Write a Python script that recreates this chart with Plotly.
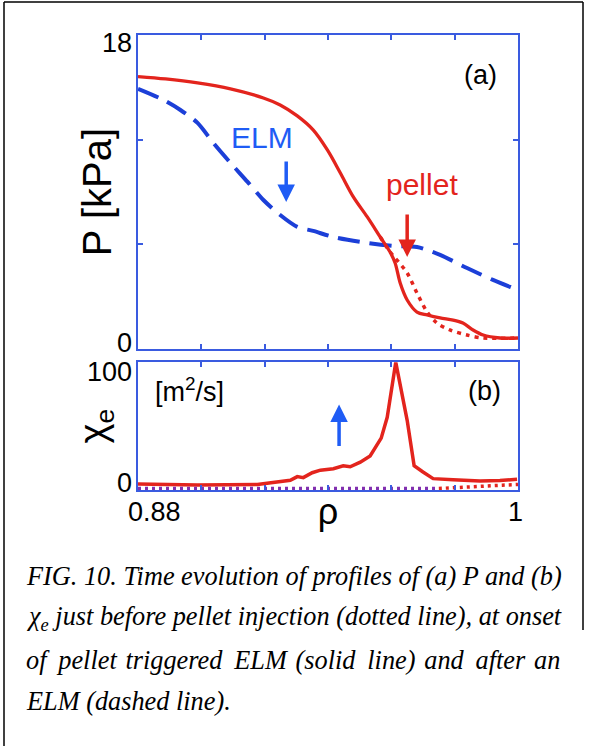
import plotly.graph_objects as go

# ---------------- data ----------------
# Panel (a): pressure profiles P [kPa] vs rho
rho_solid = [0.8800, 0.8887, 0.8988, 0.9092, 0.9196, 0.9249, 0.9303, 0.9353, 0.9398, 0.9439,
             0.9480, 0.9524, 0.9565, 0.9596, 0.9612, 0.9628, 0.9650, 0.9681, 0.9713, 0.9754,
             0.9795, 0.9826, 0.9858, 0.9890, 0.9943, 1.0000]
p_solid = [15.62, 15.48, 15.25, 14.91, 14.39, 13.99, 13.36, 12.56, 11.41, 10.09,
           8.72, 7.57, 6.42, 5.56, 4.93, 3.78, 2.81, 2.12, 1.95, 1.78,
           1.66, 1.49, 1.09, 0.80, 0.63, 0.63]

rho_dashed = [0.8800, 0.8880, 0.8934, 0.8988, 0.9038, 0.9092, 0.9146, 0.9196, 0.9249, 0.9303,
              0.9353, 0.9417, 0.9524, 0.9606, 0.9681, 0.9754, 0.9839, 0.9921, 1.0000]
p_dashed = [14.91, 14.28, 13.70, 12.96, 11.81, 10.67, 9.58, 8.54, 7.68, 7.00,
            6.77, 6.42, 6.08, 5.91, 5.85, 5.39, 4.64, 3.96, 3.38]

rho_dotted = [0.9565, 0.9596, 0.9612, 0.9650, 0.9681, 0.9713, 0.9744, 0.9785, 0.9839, 0.9890, 1.0000]
p_dotted = [6.42, 5.56, 5.22, 4.36, 3.21, 2.12, 1.49, 1.09, 0.80, 0.63, 0.63]

# Panel (b): chi_e [m^2/s] vs rho
rho_chi = [0.8800, 0.8988, 0.9177, 0.9218, 0.9281, 0.9303, 0.9322, 0.9350, 0.9376, 0.9417,
           0.9448, 0.9470, 0.9502, 0.9533, 0.9568, 0.9587, 0.9614, 0.9650, 0.9672, 0.9700,
           0.9732, 0.9795, 0.9880, 0.9943, 0.9997]
chi_solid = [3.5, 2.7, 3.1, 4.5, 6.5, 9.4, 8.6, 12.5, 14.5, 15.7,
             18.0, 17.2, 20.9, 25.8, 39.9, 56.4, 100.0, 54.0, 18.0, 13.1,
             7.8, 7.0, 6.0, 6.3, 7.4]

rho_chi_dot = [0.8800, 0.9000, 0.9200, 0.9400, 0.9600, 0.9750, 0.9800, 0.9850, 0.9900, 0.9950, 1.0000]
chi_dotted = [0.0, 0.0, 0.0, 0.0, 0.0, 0.0, 0.8, 1.5, 2.0, 2.6, 3.2]
n_overlap = 6  # points where the dotted chi overlaps the dashed (after-ELM) one

# axes ticks / labels
x_ticks = [0.88, 0.90, 0.92, 0.94, 0.96, 0.98, 1.00]
x_ticklabels = [(0.88, "0.88"), (1.00, "1")]
ya_ticks = [6, 12]
ya_ticklabels = [(18, "18"), (0, "0")]
yb_ticklabels = [(100, "100"), (0, "0")]

THIN, HAIR = "\u2009", "\u200a"
caption_lines = [
    "FIG. 10. Time evolution of profiles of (a) P and (b)",
    "χ<sub>e</sub> just before pellet injection (dotted line), at onset",
    ("of {t}pellet {h}triggered {t}ELM {h}(solid {t}line) {h}and {t}after {h}an"
     .format(t=THIN, h=HAIR)),
    "ELM (dashed line).",
]

# ---------------- style ----------------
RED = "#e3241d"
BLUE = "#1c3fd8"
AXC = "#3a5be0"
ARROW_BLUE = "#1f5cf5"
PURPLE = "#8230b0"
SANS = "Liberation Sans, Arial, Helvetica, sans-serif"
SERIF = "Liberation Serif, Times New Roman, serif"

W, H = 589, 746
ML, MR, MT, MB = 138, 71, 35, 256
PW, PH = W - ML - MR, H - MT - MB


def px_x(px):
    return (px - ML) / PW


def px_y(py):
    return (H - MB - py) / PH


fig = go.Figure()

# panel (a)
fig.add_trace(go.Scatter(x=rho_dashed, y=p_dashed, mode="lines", xaxis="x", yaxis="y",
                         line=dict(color=BLUE, width=4, dash="22px,10px", shape="spline", smoothing=0.8)))
fig.add_trace(go.Scatter(x=rho_dotted, y=p_dotted, mode="lines", xaxis="x", yaxis="y",
                         line=dict(color=RED, width=3.5, dash="4px,5px", shape="spline", smoothing=0.8)))
fig.add_trace(go.Scatter(x=rho_solid, y=p_solid, mode="lines", xaxis="x", yaxis="y",
                         line=dict(color=RED, width=3.3, shape="spline", smoothing=0.9)))

# panel (b)
fig.add_trace(go.Scatter(x=rho_chi, y=chi_solid, mode="lines", xaxis="x2", yaxis="y2",
                         line=dict(color=RED, width=3.5), cliponaxis=False))
fig.add_trace(go.Scatter(x=rho_chi_dot[:n_overlap], y=chi_dotted[:n_overlap], mode="lines",
                         xaxis="x2", yaxis="y2", cliponaxis=False,
                         line=dict(color=PURPLE, width=3.5, dash="3px,4px")))
fig.add_trace(go.Scatter(x=rho_chi_dot[n_overlap - 1:], y=chi_dotted[n_overlap - 1:], mode="lines",
                         xaxis="x2", yaxis="y2", cliponaxis=False,
                         line=dict(color=RED, width=3.5, dash="3px,4px")))

yA0 = px_y(349)
yB1 = px_y(362.3)

axis_common = dict(showline=True, linecolor=AXC, linewidth=1.5, mirror="ticks",
                   ticks="inside", ticklen=5, tickwidth=1.5, tickcolor=AXC,
                   showgrid=False, zeroline=False, showticklabels=False)

fig.update_layout(
    width=W, height=H,
    margin=dict(l=ML, r=MR, t=MT, b=MB, pad=0),
    paper_bgcolor="white", plot_bgcolor="white",
    showlegend=False,
    font=dict(family=SANS, color="black"),
    xaxis=dict(domain=[0, 1], range=[0.88, 1.0], tickvals=x_ticks, anchor="y", **axis_common),
    yaxis=dict(domain=[yA0, 1], range=[0, 18], tickvals=ya_ticks, anchor="x",
               title=dict(text="P [kPa]", font=dict(size=40, family=SANS), standoff=12),
               **axis_common),
    xaxis2=dict(domain=[0, 1], range=[0.88, 1.0], tickvals=x_ticks, anchor="y2",
                title=dict(text="ρ", font=dict(size=36, family=SANS), standoff=8),
                **axis_common),
    yaxis2=dict(domain=[0, yB1], range=[-1.2, 100], tickvals=[], anchor="x2",
                title=dict(text="χ<sub>e</sub>", font=dict(size=38, family=SANS), standoff=18),
                **axis_common),
)

ann = []
# tick labels
for v, t in x_ticklabels:
    if t == "0.88":
        ann.append(dict(x=v, y=0, xref="x2", yref="y2 domain", text=t, showarrow=False,
                        xanchor="left", yanchor="middle", xshift=-12, yshift=-22,
                        font=dict(size=27, family=SANS)))
    else:
        ann.append(dict(x=v, y=0, xref="x2", yref="y2 domain", text=t, showarrow=False,
                        xanchor="center", yanchor="middle", xshift=-3, yshift=-22,
                        font=dict(size=27, family=SANS)))
for v, t in ya_ticklabels:
    ann.append(dict(x=0, y=v, xref="x domain", yref="y", text=t, showarrow=False,
                    xanchor="right", yanchor="middle", xshift=-4,
                    yshift=-8 if v > 0 else 6, font=dict(size=27, family=SANS)))
for v, t in yb_ticklabels:
    ann.append(dict(x=0, y=v, xref="x2 domain", yref="y2", text=t, showarrow=False,
                    xanchor="right", yanchor="middle", xshift=-4,
                    yshift=-10 if v > 0 else 5, font=dict(size=27, family=SANS)))

# panel labels and texts
ann.append(dict(x=0.988, y=15.7, xref="x", yref="y", text="(a)", showarrow=False,
                font=dict(size=27, family=SANS)))
ann.append(dict(x=0.9894, y=77.5, xref="x2", yref="y2", text="(b)", showarrow=False,
                font=dict(size=27, family=SANS)))
ann.append(dict(x=0.9191, y=12.11, xref="x", yref="y", text="ELM", showarrow=False,
                font=dict(size=30, family=SANS, color=ARROW_BLUE)))
ann.append(dict(x=0.9696, y=9.43, xref="x", yref="y", text="pellet", showarrow=False,
                font=dict(size=30, family=SANS, color=RED)))
ann.append(dict(x=0.8846, y=78.3, xref="x2", yref="y2", text="[m<sup>2</sup>/s]", showarrow=False,
                xanchor="left", font=dict(size=27, family=SANS)))

# arrows
ann.append(dict(x=0.9268, y=8.43, xref="x", yref="y", ax=0, ay=-42, text="", showarrow=True,
                arrowhead=2, arrowsize=1, arrowwidth=3.5, arrowcolor=ARROW_BLUE))
ann.append(dict(x=0.9650, y=5.28, xref="x", yref="y", ax=0, ay=-44, text="", showarrow=True,
                arrowhead=2, arrowsize=1, arrowwidth=3.5, arrowcolor=RED))
ann.append(dict(x=0.9435, y=66.6, xref="x2", yref="y2", ax=0, ay=43, text="", showarrow=True,
                arrowhead=2, arrowsize=1, arrowwidth=3.5, arrowcolor=ARROW_BLUE))

# caption
cap_y = [576, 618, 660, 701]
for line, cy in zip(caption_lines, cap_y):
    ann.append(dict(x=px_x(24), y=px_y(cy), xref="paper", yref="paper", text=line,
                    showarrow=False, xanchor="left", yanchor="middle",
                    font=dict(size=26.3, family=SERIF, style="italic")))

fig.update_layout(annotations=ann)

# outer frame
frame = dict(type="line", xref="paper", yref="paper", line=dict(color="black", width=1.5))
fig.add_shape(x0=px_x(4), x1=px_x(4), y0=px_y(2), y1=px_y(746), **frame)
fig.add_shape(x0=px_x(4), x1=px_x(583), y0=px_y(2), y1=px_y(2), **frame)
fig.add_shape(x0=px_x(583), x1=px_x(583), y0=px_y(2), y1=px_y(630), **frame)

fig.write_html("out.html")
